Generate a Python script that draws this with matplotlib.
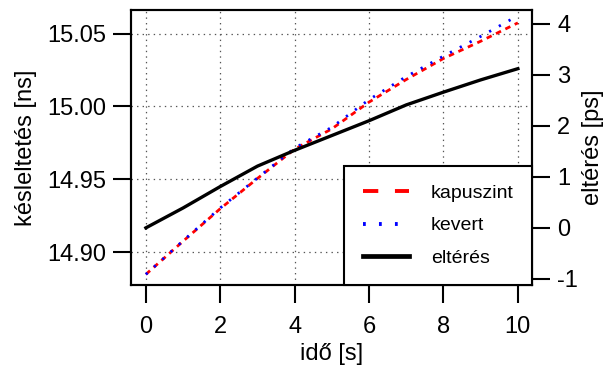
import matplotlib
matplotlib.use("Agg")
import matplotlib.pyplot as plt
from matplotlib.lines import Line2D

plt.rcParams['font.family'] = ['Liberation Sans', 'DejaVu Sans']
plt.rcParams['axes.unicode_minus'] = False
plt.rcParams['lines.scale_dashes'] = False

# data
time_s = [0, 1, 2, 3, 4, 5, 6, 7, 8, 9, 10]
kapuszint_ns = [14.885, 14.9077, 14.930, 14.9507, 14.9708, 14.9847, 15.003, 15.0185, 15.0329, 15.0447, 15.0573]
kevert_ns = [14.885, 14.908, 14.9305, 14.951, 14.9715, 14.9858, 15.0047, 15.0205, 15.0345, 15.048, 15.0622]
elteres_ps = [0.0, 0.39, 0.81, 1.21, 1.52, 1.81, 2.10, 2.41, 2.66, 2.90, 3.12]

xticks = [0, 2, 4, 6, 8, 10]
yticks_left = [14.90, 14.95, 15.00, 15.05]
yticks_right = [-1, 0, 1, 2, 3, 4]

fig = plt.figure(figsize=(6.09, 3.68), dpi=100)
ax = fig.add_axes([131/609, 1-285/368, 401/609, 275/368])
ax2 = ax.twinx()

fs = 17
ax.plot(time_s, kapuszint_ns, color='red', lw=2.0, dashes=(4, 3.5), zorder=3)
ax.plot(time_s, kevert_ns, color='blue', lw=2.0, dashes=(1.6, 6.4), zorder=3)
ax2.plot(time_s, elteres_ps, color='black', lw=2.4, zorder=3)

ax.set_xlim(-0.4, 10.38)
ax.set_ylim(14.8777, 15.0661)
ax2.set_ylim(-1.12, 4.27)

ax.set_xticks(xticks)
ax.set_xticklabels([str(v) for v in xticks])
ax.set_yticks(yticks_left)
ax.set_yticklabels([f"{v:.2f}" for v in yticks_left])
ax2.set_yticks(yticks_right)
ax2.set_yticklabels([str(v) for v in yticks_right])

ax.grid(True, color='#555555', linestyle=(0, (1, 3)), lw=0.9)

for a in (ax, ax2):
    for s in a.spines.values():
        s.set_linewidth(1.5)
    a.tick_params(direction='out', length=13, width=1.5, labelsize=fs, pad=5)
ax.tick_params(axis='x', pad=9)

ax.set_xlabel('idő [s]', fontsize=fs, labelpad=4)
ax.set_ylabel('késleltetés [ns]', fontsize=fs, labelpad=7)
ax2.set_ylabel('eltérés [ps]', fontsize=fs, labelpad=3)

handles = [
    Line2D([], [], color='red', lw=2.8, dashes=(11, 12)),
    Line2D([], [], color='blue', lw=2.8, dashes=(2, 9.5)),
    Line2D([], [], color='black', lw=3.4),
]
labels = ['kapuszint', 'kevert', 'eltérés']
leg = ax2.legend(handles, labels, loc='lower right', bbox_to_anchor=(1, 0),
                 borderaxespad=0, fancybox=False, edgecolor='black',
                 framealpha=1, fontsize=14, handlelength=2.4,
                 handletextpad=1.1, labelspacing=0.75, borderpad=0.95)
leg.get_frame().set_linewidth(1.5)
leg.set_zorder(10)

fig.savefig('out.png', dpi=100)
